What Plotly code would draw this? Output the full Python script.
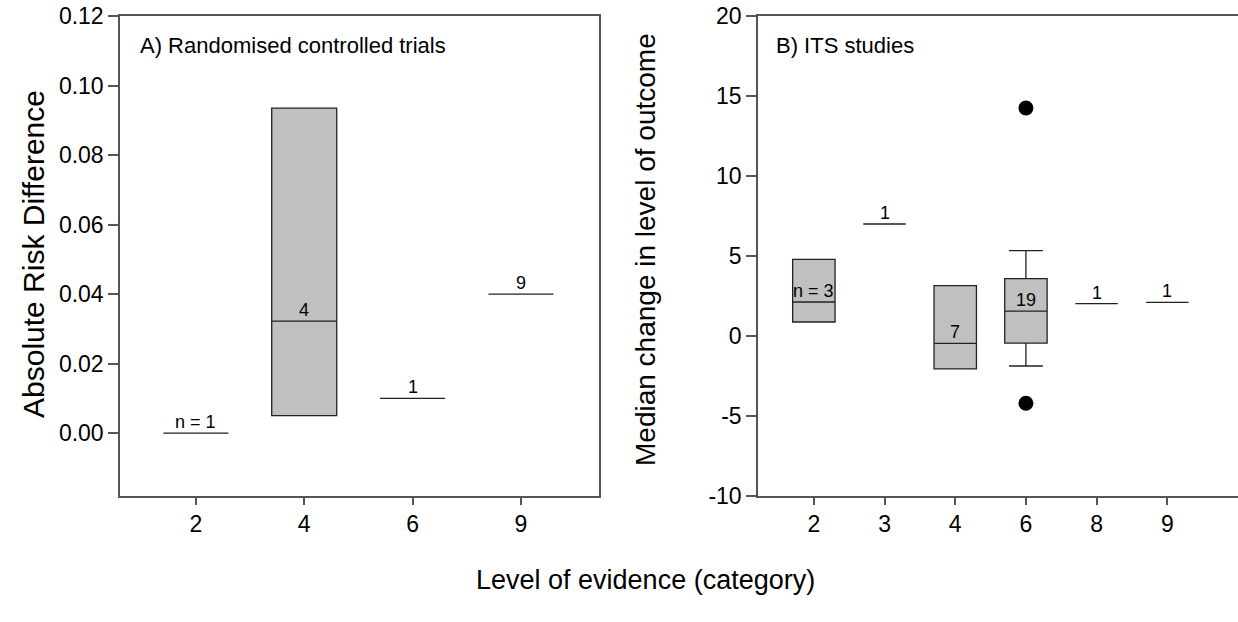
import plotly.graph_objects as go

# ---------------- data ----------------
left_categories = ["2", "4", "6", "9"]
left_q1 = [0.0, 0.005, 0.010, 0.040]
left_median = [0.0, 0.0322, 0.010, 0.040]
left_q3 = [0.0, 0.0935, 0.010, 0.040]
left_n = ["n = 1", "4", "1", "9"]
left_yticks = [0.00, 0.02, 0.04, 0.06, 0.08, 0.10, 0.12]
left_yticktext = ["0.00", "0.02", "0.04", "0.06", "0.08", "0.10", "0.12"]

right_categories = ["2", "3", "4", "6", "8", "9"]
right_q1 = [0.875, 7.0, -2.06, -0.44, 2.02, 2.10]
right_median = [2.125, 7.0, -0.46, 1.56, 2.02, 2.10]
right_q3 = [4.79, 7.0, 3.15, 3.58, 2.02, 2.10]
right_lower = [0.875, 7.0, -2.06, -1.875, 2.02, 2.10]
right_upper = [4.79, 7.0, 3.15, 5.33, 2.02, 2.10]
right_n = ["n = 3", "1", "7", "19", "1", "1"]
right_outlier_x = ["6", "6"]
right_outlier_y = [14.25, -4.2]
right_yticks = [-10, -5, 0, 5, 10, 15, 20]
right_yticktext = ["-10", "-5", "0", "5", "10", "15", "20"]

FONT = "Liberation Sans, Arial, sans-serif"
BOX_FILL = "#c0c0c0"
LINE = "#222222"
AXIS = "#555555"
W, H = 1238, 622

fig = go.Figure()

fig.add_trace(go.Box(
    x=left_categories, q1=left_q1, median=left_median, q3=left_q3,
    lowerfence=left_q1, upperfence=left_q3,
    width=0.6, fillcolor=BOX_FILL, line=dict(color=LINE, width=1.3),
    boxpoints=False, xaxis="x", yaxis="y", showlegend=False, hoverinfo="skip",
))
fig.add_trace(go.Box(
    x=right_categories, q1=right_q1, median=right_median, q3=right_q3,
    lowerfence=right_lower, upperfence=right_upper,
    width=0.6, whiskerwidth=0.8, fillcolor=BOX_FILL, line=dict(color=LINE, width=1.3),
    boxpoints=False, xaxis="x2", yaxis="y2", showlegend=False, hoverinfo="skip",
))
fig.add_trace(go.Scatter(
    x=right_outlier_x, y=right_outlier_y, mode="markers",
    marker=dict(color="black", size=15), xaxis="x2", yaxis="y2",
    showlegend=False, hoverinfo="skip",
))

annotations = []
for i, (m, t) in enumerate(zip(left_median, left_n)):
    annotations.append(dict(x=i, y=m, xref="x", yref="y", text=t, showarrow=False,
                            yanchor="bottom", yshift=-1, font=dict(size=18, color="black", family=FONT)))
for i, (m, t) in enumerate(zip(right_median, right_n)):
    annotations.append(dict(x=i, y=m, xref="x2", yref="y2", text=t, showarrow=False,
                            yanchor="bottom", yshift=-1, font=dict(size=18, color="black", family=FONT)))

# panel labels and axis titles
annotations += [
    dict(x=138 / W, y=1 - 45 / H, xref="paper", yref="paper", text="A) Randomised controlled trials",
         showarrow=False, xanchor="left", yanchor="middle", font=dict(size=22, color="black", family=FONT)),
    dict(x=774 / W, y=1 - 45 / H, xref="paper", yref="paper", text="B) ITS studies",
         showarrow=False, xanchor="left", yanchor="middle", font=dict(size=22, color="black", family=FONT)),
    dict(x=33 / W, y=1 - 254 / H, xref="paper", yref="paper", text="Absolute Risk Difference",
         textangle=-90, showarrow=False, xanchor="center", yanchor="middle",
         font=dict(size=30, color="black", family=FONT)),
    dict(x=645 / W, y=1 - 250 / H, xref="paper", yref="paper", text="Median change in level of outcome",
         textangle=-90, showarrow=False, xanchor="center", yanchor="middle",
         font=dict(size=28, color="black", family=FONT)),
    dict(x=645 / W, y=1 - 580 / H, xref="paper", yref="paper", text="Level of evidence (category)",
         showarrow=False, xanchor="center", yanchor="middle",
         font=dict(size=27, color="black", family=FONT)),
]

ydom = [1 - 496 / H, 1 - 16 / H]
common_axis = dict(showgrid=False, zeroline=False, showline=True, linecolor=AXIS, linewidth=1.5,
                   ticks="outside", tickcolor=AXIS, tickwidth=1.5, automargin=False,
                   tickfont=dict(size=23, color="black", family=FONT))

fig.update_layout(
    width=W, height=H,
    margin=dict(l=0, r=0, t=0, b=0, pad=0),
    paper_bgcolor="white", plot_bgcolor="white",
    font=dict(family=FONT),
    xaxis=dict(common_axis, domain=[120 / W, 599 / W], type="category",
               categoryorder="array", categoryarray=left_categories,
               range=[-0.70, 3.72], mirror=True, ticklen=7, anchor="y",
               ticklabelstandoff=0),
    yaxis=dict(common_axis, domain=ydom, range=[-0.0181, 0.12], tickvals=left_yticks,
               ticktext=left_yticktext, mirror=True, ticklen=10, anchor="x"),
    xaxis2=dict(common_axis, domain=[758 / W, 1.0], type="category",
                categoryorder="array", categoryarray=right_categories,
                range=[-0.79, 6.0], mirror=True, ticklen=7, anchor="y2",
                ticklabelstandoff=0),
    yaxis2=dict(common_axis, domain=ydom, range=[-10, 20], tickvals=right_yticks,
                ticktext=right_yticktext, mirror=False, ticklen=10, anchor="x2"),
    annotations=annotations,
)

fig.write_html("out.html")
